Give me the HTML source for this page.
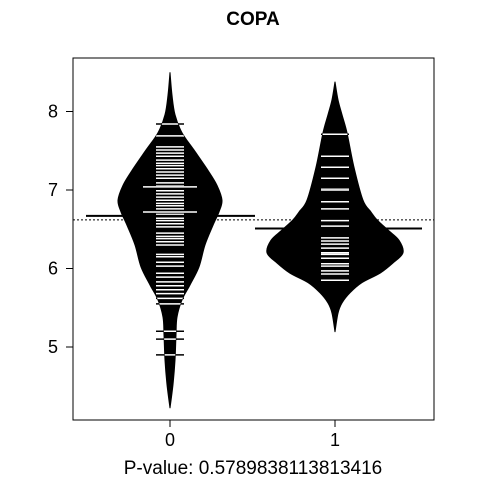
<!DOCTYPE html>
<html><head><meta charset="utf-8"><style>
html,body{margin:0;padding:0;background:#fff;}
svg text{font-family:"Liberation Sans",Arial,sans-serif;}
</style></head><body>
<svg id="chart" width="480" height="480" viewBox="0 0 480 480" xmlns="http://www.w3.org/2000/svg">
<text x="253" y="25" text-anchor="middle" font-size="19" font-weight="bold">COPA</text>
<g id="plot"></g>
<rect x="73" y="58" width="361" height="362" fill="none" stroke="#000" stroke-width="1"/>
<text x="253" y="474" text-anchor="middle" font-size="19">P-value: 0.5789838113813416</text>
</svg>
<script>
const categories = ["0", "1"];
const yTicks = [5, 6, 7, 8];
const overallMean = 6.62;
const groupMeans = [6.67, 6.51];
const group0Values = [7.84,7.69,7.55,7.51,7.47,7.43,7.38,7.34,7.31,7.27,7.23,7.19,7.15,7.09,7.05,6.99,6.95,6.91,6.87,6.83,6.80,6.76,6.69,6.64,6.61,6.57,6.53,6.45,6.41,6.38,6.34,6.30,6.18,6.15,6.08,6.03,5.94,5.89,5.83,5.78,5.73,5.68,5.62,5.55,5.20,5.10,4.90];
const group0Duplicates = [7.04, 6.72];
const group1Values = [7.71,7.43,7.29,7.15,7.01,7.00,6.85,6.76,6.61,6.54,6.39,6.35,6.31,6.26,6.20,6.18,6.13,6.06,6.03,5.97,5.93,5.85];
const group1Duplicates = [];
const group0DensityAt = [8.50,8.21,7.96,7.73,7.51,7.25,7.06,6.87,6.72,6.55,6.30,6.02,5.79,5.60,5.38,5.15,4.83,4.52,4.22];
const group0Density = [0,2,5,12,24,38,47,52,49,43,35,29,20,12,7,6,5,3,0];
const group1DensityAt = [8.38,8.15,7.96,7.73,7.29,6.87,6.72,6.62,6.49,6.36,6.20,6.07,5.94,5.82,5.69,5.56,5.43,5.19];
const group1Density = [0,3,7,12,19,28,36,42,53,64,68,58,45,27,15,7,3,0];

const NS = "http://www.w3.org/2000/svg";
const plot = document.getElementById("plot");
const svg = document.getElementById("chart");
function yScale(v){ return 190 - (v - 7) * 78.5; }
function xScale(i){ return [170, 335][i]; }
const wScale = 1;
function mk(tag, attrs){ const e = document.createElementNS(NS, tag); for (const k in attrs) e.setAttribute(k, attrs[k]); return e; }
function smoothPath(p){
  let d = "M" + p[0][0] + "," + p[0][1];
  for (let i = 0; i < p.length - 1; i++) {
    const p0 = p[Math.max(0,i-1)], p1 = p[i], p2 = p[i+1], p3 = p[Math.min(p.length-1,i+2)];
    const c1x = p1[0] + (p2[0]-p0[0])/6, c1y = p1[1] + (p2[1]-p0[1])/6;
    const c2x = p2[0] - (p3[0]-p1[0])/6, c2y = p2[1] - (p3[1]-p1[1])/6;
    d += " C" + c1x + "," + c1y + " " + c2x + "," + c2y + " " + p2[0] + "," + p2[1];
  }
  return d;
}

yTicks.forEach(t => {
  const l = mk("line", {x1:66, x2:73, y1:yScale(t), y2:yScale(t), stroke:"#000"});
  
  
  svg.appendChild(l);
  const tx = mk("text", {x:58, y:yScale(t)+6, "text-anchor":"end", "font-size":"18"});
  
  
  tx.textContent = t; svg.appendChild(tx);
});
categories.forEach((c, i) => {
  const l = mk("line", {x1:xScale(i), x2:xScale(i), y1:420, y2:427, stroke:"#000"});
  
  
  svg.appendChild(l);
  const tx = mk("text", {x:xScale(i), y:446, "text-anchor":"middle", "font-size":"18"});
  
  
  tx.textContent = c; svg.appendChild(tx);
});

const om = mk("line", {x1:73, x2:434, y1:yScale(overallMean), y2:yScale(overallMean), stroke:"#000", "stroke-dasharray":"2,2", "stroke-width":1});


plot.appendChild(om);

const groups = [
  {vals: group0Values, dups: group0Duplicates, at: group0DensityAt, d: group0Density},
  {vals: group1Values, dups: group1Duplicates, at: group1DensityAt, d: group1Density}
];
const defs = mk("defs", {}); svg.insertBefore(defs, svg.firstChild);
groups.forEach((g, i) => {
  const cx = xScale(i);
  const right = g.at.map((v, k) => [cx + g.d[k]*wScale, yScale(v)]);
  const left = g.at.map((v, k) => [cx - g.d[k]*wScale, yScale(v)]).reverse();
  const d = smoothPath(right) + " L" + smoothPath(left).slice(1) + " Z";
  const cp = mk("clipPath", {id:"clip"+i});
  cp.appendChild(mk("path", {d: d}));
  defs.appendChild(cp);
  const bean = mk("path", {d: d, fill:"#000", stroke:"#000"});
  
  
  plot.appendChild(bean);
  const drawLine = (v, half, name) => {
    const b = mk("line", {x1:cx-half, x2:cx+half, y1:yScale(v), y2:yScale(v), stroke:"#000", "stroke-width":1.5});
    
    
    plot.appendChild(b);
    const w = mk("line", {x1:cx-half, x2:cx+half, y1:yScale(v), y2:yScale(v), stroke:"#fff", "stroke-width":1.5, "clip-path":"url(#clip"+i+")"});
    
    
    plot.appendChild(w);
  };
  g.vals.forEach(v => drawLine(v, 14, 'observation-line'));
  g.dups.forEach(v => drawLine(v, 27, 'duplicate-observation-line'));
  const mx1 = i === 0 ? 86 : 255, mx2 = i === 0 ? 255 : 422;
  const ml = mk("line", {x1:mx1, x2:mx2, y1:yScale(groupMeans[i]), y2:yScale(groupMeans[i]), stroke:"#000", "stroke-width":2});
  
  
  plot.appendChild(ml);
});
</script>
</body></html>
